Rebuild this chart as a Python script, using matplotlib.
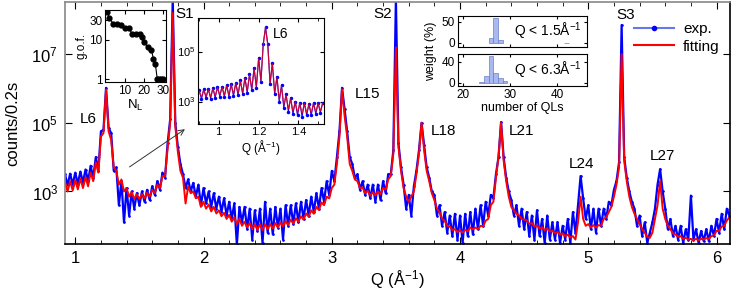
import numpy as np
import matplotlib.pyplot as plt
from matplotlib.lines import Line2D
from matplotlib.ticker import MultipleLocator, NullLocator

plt.rcParams['font.family'] = ['Liberation Sans', 'DejaVu Sans']
plt.rcParams['mathtext.default'] = 'regular'
plt.rcParams['xtick.direction'] = 'in'
plt.rcParams['ytick.direction'] = 'in'

# main scan, Q grid 0.92 .. 6.10 step 0.02, values are log10(counts)
q_main = np.round(np.arange(0.92, 6.101, 0.02), 2)
exp_log = [
    3.50, 3.18, 3.52, 3.20, 3.55, 3.22, 3.58, 3.26, 3.64, 3.30,
    3.75, 3.40, 4.00, 3.60, 4.75, 4.80, 6.02, 4.85, 4.70, 3.60,
    3.70, 2.60, 3.30, 2.10, 3.10, 2.30, 3.00, 2.50, 2.95, 2.60,
    3.00, 2.70, 3.05, 2.75, 3.15, 2.90, 3.30, 3.05, 3.55, 3.40,
    4.40, 5.10, 8.60, 5.00, 4.30, 3.80, 3.50, 3.10, 3.35, 3.00,
    3.25, 2.85, 3.20, 2.60, 3.10, 2.65, 3.00, 2.55, 2.95, 2.50,
    2.85, 2.40, 2.80, 2.30, 2.70, 2.20, 2.65, 1.45, 2.55, 2.10,
    2.55, 1.90, 2.50, 1.60, 2.45, 1.85, 2.50, 1.50, 2.70, 1.80,
    2.50, 1.75, 2.55, 1.95, 2.50, 1.60, 2.60, 2.00, 2.60, 2.05,
    2.65, 2.10, 2.70, 2.20, 2.75, 2.30, 2.85, 2.40, 2.95, 2.50,
    3.10, 2.70, 3.30, 2.90, 3.60, 3.30, 4.00, 4.75, 6.02, 5.40,
    4.75, 4.00, 3.80, 3.40, 3.50, 3.05, 3.30, 2.90, 3.20, 2.80,
    3.20, 2.70, 3.20, 2.75, 3.30, 2.95, 3.50, 3.50, 4.20, 8.60,
    4.40, 3.70, 3.20, 2.50, 2.90, 2.30, 3.15, 3.60, 4.20, 5.00,
    4.35, 3.70, 3.40, 3.00, 2.90, 2.30, 2.60, 2.00, 2.40, 1.80,
    2.30, 1.70, 2.35, 1.60, 2.30, 1.50, 2.35, 1.70, 2.40, 1.75,
    2.50, 1.90, 2.60, 2.00, 2.70, 2.30, 2.90, 2.80, 3.50, 4.00,
    5.02, 4.00, 3.40, 3.00, 2.75, 2.30, 2.60, 2.00, 2.50, 1.90,
    2.40, 1.70, 2.30, 1.60, 2.45, 1.70, 2.20, 1.50, 2.30, 1.60,
    2.10, 1.60, 2.10, 1.50, 2.00, 1.60, 2.20, 1.50, 2.40, 1.80,
    2.60, 3.45, 2.80, 2.20, 2.60, 1.90, 2.50, 1.80, 2.50, 2.00,
    2.50, 2.20, 2.70, 2.60, 3.05, 3.30, 3.85, 7.85, 4.00, 3.40,
    3.00, 2.70, 2.50, 2.00, 2.30, 1.70, 2.10, 1.50, 1.80, 2.10,
    2.50, 3.20, 3.65, 3.00, 2.50, 1.90, 2.20, 1.70, 2.00, 1.60,
    2.00, 1.50, 1.90, 1.60, 2.88, 1.60, 1.90, 1.50, 1.85, 1.55,
    1.90, 1.55, 2.00, 1.70, 2.20, 1.80, 2.35, 1.90, 2.50, 2.30,
]
fit_log = [
    3.28, 3.00, 3.30, 3.03, 3.33, 3.06, 3.37, 3.10, 3.42, 3.15,
    3.55, 3.30, 3.85, 3.55, 4.60, 4.70, 5.97, 4.75, 4.50, 3.70,
    3.60, 3.20, 3.35, 3.00, 3.10, 2.85, 2.98, 2.78, 2.92, 2.78,
    2.92, 2.80, 2.96, 2.85, 3.05, 2.95, 3.20, 3.10, 3.45, 3.45,
    4.25, 5.00, 8.20, 4.90, 4.15, 3.60, 3.40, 2.65, 3.15, 2.95,
    3.00, 2.80, 2.85, 2.55, 2.70, 2.50, 2.62, 2.42, 2.55, 2.36,
    2.45, 2.28, 2.38, 2.20, 2.32, 2.12, 2.25, 2.05, 2.20, 2.00,
    2.12, 1.95, 2.08, 1.90, 2.05, 1.88, 2.04, 1.88, 2.05, 1.90,
    2.05, 1.92, 2.08, 1.95, 2.10, 1.98, 2.14, 2.02, 2.18, 2.06,
    2.22, 2.12, 2.28, 2.18, 2.36, 2.26, 2.45, 2.35, 2.55, 2.46,
    2.68, 2.60, 2.85, 2.80, 3.10, 3.20, 3.80, 4.60, 5.98, 5.20,
    4.60, 3.80, 3.60, 3.35, 3.30, 3.10, 3.12, 2.95, 3.02, 2.88,
    2.98, 2.88, 3.00, 2.92, 3.10, 3.05, 3.35, 3.45, 4.10, 7.20,
    4.30, 3.60, 3.10, 2.85, 2.70, 2.85, 3.00, 3.50, 4.10, 5.00,
    4.20, 3.60, 3.30, 2.95, 2.75, 2.50, 2.40, 2.20, 2.15, 2.00,
    1.98, 1.88, 1.90, 1.82, 1.86, 1.80, 1.88, 1.84, 1.95, 1.90,
    1.95, 1.90, 2.00, 1.98, 2.15, 2.20, 2.60, 2.70, 3.40, 4.00,
    5.00, 3.90, 3.30, 2.85, 2.55, 2.45, 2.35, 2.30, 2.20, 2.18,
    2.16, 2.06, 2.08, 1.98, 2.01, 1.92, 1.96, 1.87, 1.92, 1.83,
    1.86, 1.78, 1.82, 1.74, 1.78, 1.70, 1.74, 1.66, 1.70, 1.60,
    2.10, 2.85, 2.20, 2.00, 2.05, 1.95, 2.02, 1.95, 2.02, 2.00,
    2.20, 2.25, 2.40, 2.55, 2.85, 3.20, 3.70, 7.00, 3.90, 3.30,
    2.85, 2.55, 2.35, 2.20, 2.05, 1.90, 1.80, 1.68, 1.65, 1.80,
    2.20, 2.60, 3.30, 2.50, 2.20, 2.00, 1.90, 1.78, 1.75, 1.68,
    1.70, 1.62, 1.65, 1.60, 1.62, 1.58, 1.62, 1.58, 1.62, 1.60,
    1.64, 1.62, 1.70, 1.72, 1.85, 1.85, 1.98, 2.00, 2.15, 2.25,
]

peak_names = ['L6', 'S1', 'S2', 'L15', 'L18', 'L21', 'L24', 'S3', 'L27']
peak_text_q = [1.10, 1.85, 3.40, 3.28, 3.87, 4.48, 4.95, 5.29, 5.58]
peak_text_log = [5.12, 8.16, 8.16, 5.84, 4.77, 4.77, 3.81, 8.13, 4.04]

# goodness of fit vs number of layers
n_layers = [1, 2, 4, 6, 8, 10, 12, 14, 16, 18, 19, 20, 22, 24, 25, 26, 27, 28, 29, 30]
gof = [50, 34, 25, 24, 23, 20, 19, 14, 14, 13.4, 11.7, 8.7, 6.5, 5.4, 3.3, 2.5, 1.05, 1.0, 1.0, 1.0]

# zoom on L6 (log10 counts)
q_zoom = np.linspace(0.9030, 1.5213, 55)
zoom_exp_log = [
    3.45, 3.10, 3.50, 3.15, 3.50, 3.12, 3.55, 3.15, 3.60, 3.20,
    3.60, 3.20, 3.65, 3.20, 3.70, 3.22, 3.75, 3.25, 3.85, 3.30,
    3.95, 3.35, 4.10, 3.45, 4.35, 3.55, 4.75, 3.80, 5.30, 5.97,
    5.30, 3.70, 4.55, 3.30, 4.00, 3.00, 3.65, 2.75, 3.30, 2.60,
    3.15, 2.50, 3.00, 2.45, 2.95, 2.40, 2.95, 2.45, 2.90, 2.45,
    2.95, 2.50, 2.95, 2.55, 2.95,
]
zoom_fit_log = [
    3.40, 3.18, 3.45, 3.20, 3.47, 3.20, 3.50, 3.22, 3.55, 3.25,
    3.57, 3.25, 3.62, 3.27, 3.67, 3.30, 3.72, 3.32, 3.80, 3.37,
    3.92, 3.42, 4.06, 3.52, 4.30, 3.62, 4.70, 3.85, 5.25, 5.95,
    5.25, 3.75, 4.50, 3.38, 3.95, 3.08, 3.60, 2.85, 3.25, 2.70,
    3.10, 2.60, 2.98, 2.55, 2.92, 2.52, 2.92, 2.55, 2.88, 2.55,
    2.92, 2.58, 2.92, 2.62, 2.92,
]

# weight distributions of QL numbers
ql_low = [26, 27, 28, 42]
w_low = [12, 60, 8, 1]
ql_all = [24, 25, 26, 27, 28, 29]
w_all = [2, 14, 52, 18, 10, 3]

W, H = 747, 295
fig = plt.figure(figsize=(W / 100, H / 100), dpi=100)


def box(x0, y0, x1, y1):
    return [x0 / W, 1 - y1 / H, (x1 - x0) / W, (y1 - y0) / H]


ax = fig.add_axes(box(65, 2, 730, 244))
ax.plot(q_main, 10 ** np.array(exp_log), color='blue', lw=1.6, marker='.', ms=1.8)
ax.plot(q_main, 10 ** np.array(fit_log), color='red', lw=1.4)
ax.set_yscale('log')
ax.set_xlim(0.92, 6.105)
ax.set_ylim(10 ** 1.47, 10 ** 8.52)
ax.set_yticks([1e3, 1e5, 1e7])
ax.yaxis.set_minor_locator(NullLocator())
ax.xaxis.set_major_locator(MultipleLocator(1))
ax.xaxis.set_minor_locator(MultipleLocator(0.2))
ax.tick_params(which='both', top=True, right=True, labelsize=12)
ax.tick_params(axis='x', which='major', length=5, pad=5)
ax.tick_params(axis='y', which='major', length=5, pad=5)
ax.tick_params(which='minor', length=3)
ax.set_xlabel('Q (Å$^{-1}$)', fontsize=12, labelpad=2)
ax.set_ylabel('counts/0.2s', fontsize=12, labelpad=8)
for s in ['left', 'top']:
    ax.spines[s].set_color('#888888')
for s in ax.spines.values():
    s.set_linewidth(1.2)

for name, tq, tl in zip(peak_names, peak_text_q, peak_text_log):
    ax.text(tq, 10 ** tl, name, fontsize=11, ha='center', va='center')

ax.annotate('', xy=(1.873, 10 ** 4.86), xytext=(1.405, 10 ** 3.67),
            arrowprops=dict(arrowstyle='->', color='#333333', lw=0.7))

handles = [Line2D([], [], color='#6878e8', lw=1.5, marker='.', ms=6, mfc='blue', mec='blue'),
           Line2D([], [], color='red', lw=1.5)]
fig.legend(handles, ['exp.', 'fitting'], loc='upper left', bbox_to_anchor=(634 / W, 1 - 22 / H),
           frameon=False, fontsize=11, handlelength=2.6, handletextpad=0.6,
           labelspacing=0.25, borderpad=0, borderaxespad=0)

# inset: g.o.f.
ax1 = fig.add_axes(box(105, 10, 166, 82))
ax1.plot(n_layers, gof, color='black', lw=0.8, marker='o', ms=3.5)
ax1.set_yscale('log')
ax1.set_xlim(-0.3, 31.6)
ax1.set_ylim(0.86, 55)
ax1.set_yticks([1, 10, 30], ['1', '10', '30'])
ax1.yaxis.set_minor_locator(NullLocator())
ax1.set_xticks([10, 20, 30])
ax1.tick_params(which='both', top=True, right=True, labelsize=8.5, length=3, pad=2)
ax1.set_ylabel('g.o.f.', fontsize=8.5, labelpad=1)
ax1.set_xlabel('N$_L$', fontsize=9.5, labelpad=1)

# inset: zoom on L6
ax2 = fig.add_axes(box(198, 18, 324, 124))
ax2.plot(q_zoom, 10 ** np.array(zoom_exp_log), color='blue', lw=0.8, marker='.', ms=3)
ax2.plot(q_zoom, 10 ** np.array(zoom_fit_log), color='red', lw=0.9, alpha=0.75)
ax2.set_yscale('log')
ax2.set_xlim(0.897, 1.528)
ax2.set_ylim(10 ** 2.1, 10 ** 6.34)
ax2.set_yticks([1e3, 1e5])
ax2.yaxis.set_minor_locator(NullLocator())
ax2.set_xticks([1.0, 1.2, 1.4], ['1', '1.2', '1.4'])
ax2.xaxis.set_minor_locator(MultipleLocator(0.1))
ax2.tick_params(which='both', top=True, right=True, labelsize=8, length=3, pad=2)
ax2.tick_params(which='minor', length=2)
ax2.set_xlabel('Q (Å$^{-1}$)', fontsize=8.5, labelpad=1)
ax2.text(1.27, 10 ** 5.69, 'L6', fontsize=10, ha='left', va='center')

# inset: weight histograms
ah1 = fig.add_axes(box(458, 16, 587, 47))
ah2 = fig.add_axes(box(458, 54, 587, 86))
for a, ql, w, lim, ticks, lab in [(ah1, ql_low, w_low, (-9.5, 64), [0, 50], 'Q < 1.5Å$^{-1}$'),
                                  (ah2, ql_all, w_all, (-6, 55), [0, 40], 'Q < 6.3Å$^{-1}$')]:
    a.bar(ql, w, width=1, color='#a9b9f0', edgecolor='#6b7fc8', lw=0.5)
    a.set_xlim(19, 46.4)
    a.set_ylim(*lim)
    a.set_yticks(ticks)
    a.set_xticks([20, 30, 40])
    a.tick_params(which='both', top=True, right=True, labelsize=8.5, length=2.5, pad=2)
    a.text(0.96, 0.5, lab, transform=a.transAxes, fontsize=10, ha='right', va='center')
ah1.set_xticklabels([])
ah2.set_xlabel('number of QLs', fontsize=9, labelpad=1)
fig.text(431 / W, 1 - 51 / H, 'weight (%)', rotation=90, fontsize=9, ha='center', va='center')

fig.savefig('out.png', dpi=100)
